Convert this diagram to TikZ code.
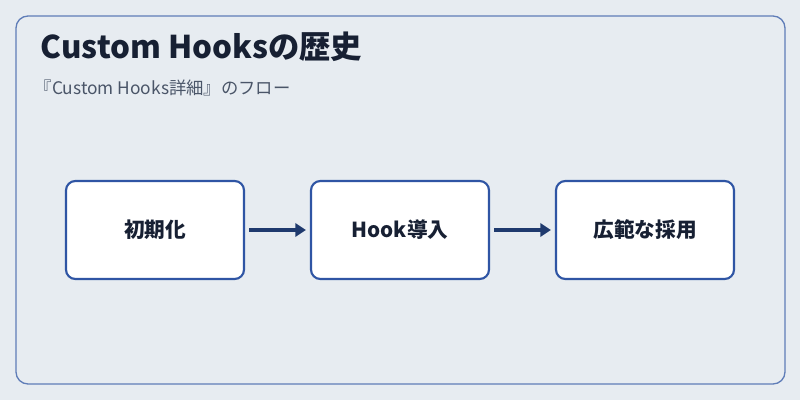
\documentclass[tikz,border=0pt]{standalone}
\usepackage{fontspec}
\setmainfont{Noto Sans CJK JP}
\usetikzlibrary{arrows.meta}
\definecolor{bg}{HTML}{E7ECF1}
\definecolor{frame}{HTML}{5F7DB8}
\definecolor{boxline}{HTML}{2F55A4}
\definecolor{arr}{HTML}{1F3A6E}
\definecolor{ttl}{HTML}{172033}
\definecolor{sub}{HTML}{4A5568}
\tikzset{
  stepbox/.style={draw=boxline, line width=1.6pt, fill=white, rounded corners=7pt,
    minimum width=133.5pt, minimum height=73.5pt, font=\fontsize{15.5}{18}\selectfont\bfseries, text=ttl},
  flow/.style={draw=arr, line width=2.6pt, -{Triangle[length=8pt,width=10pt]}}
}
\begin{document}
\begin{tikzpicture}[x=0.75pt,y=-0.75pt]
\useasboundingbox[fill=bg] (0,0) rectangle (800,400);
\draw[frame, line width=1pt, rounded corners=9pt] (16,16) rectangle (785,384);
\node[anchor=west, font=\fontsize{23.5}{26}\selectfont\bfseries, text=ttl] (title) at (36,47) {Custom Hooksの歴史};
\node[anchor=west, font=\fontsize{13}{15}\selectfont, text=sub] (subt) at (30,88) {『Custom Hooks詳細』のフロー};
\node[stepbox] (a) at (155,230) {初期化};
\node[stepbox] (b) at (400,230) {Hook導入};
\node[stepbox] (c) at (645,230) {広範な採用};
\draw[flow] ([xshift=3pt]a.east) -- ([xshift=-3pt]b.west);
\draw[flow] ([xshift=3pt]b.east) -- ([xshift=-3pt]c.west);
\end{tikzpicture}
\end{document}
